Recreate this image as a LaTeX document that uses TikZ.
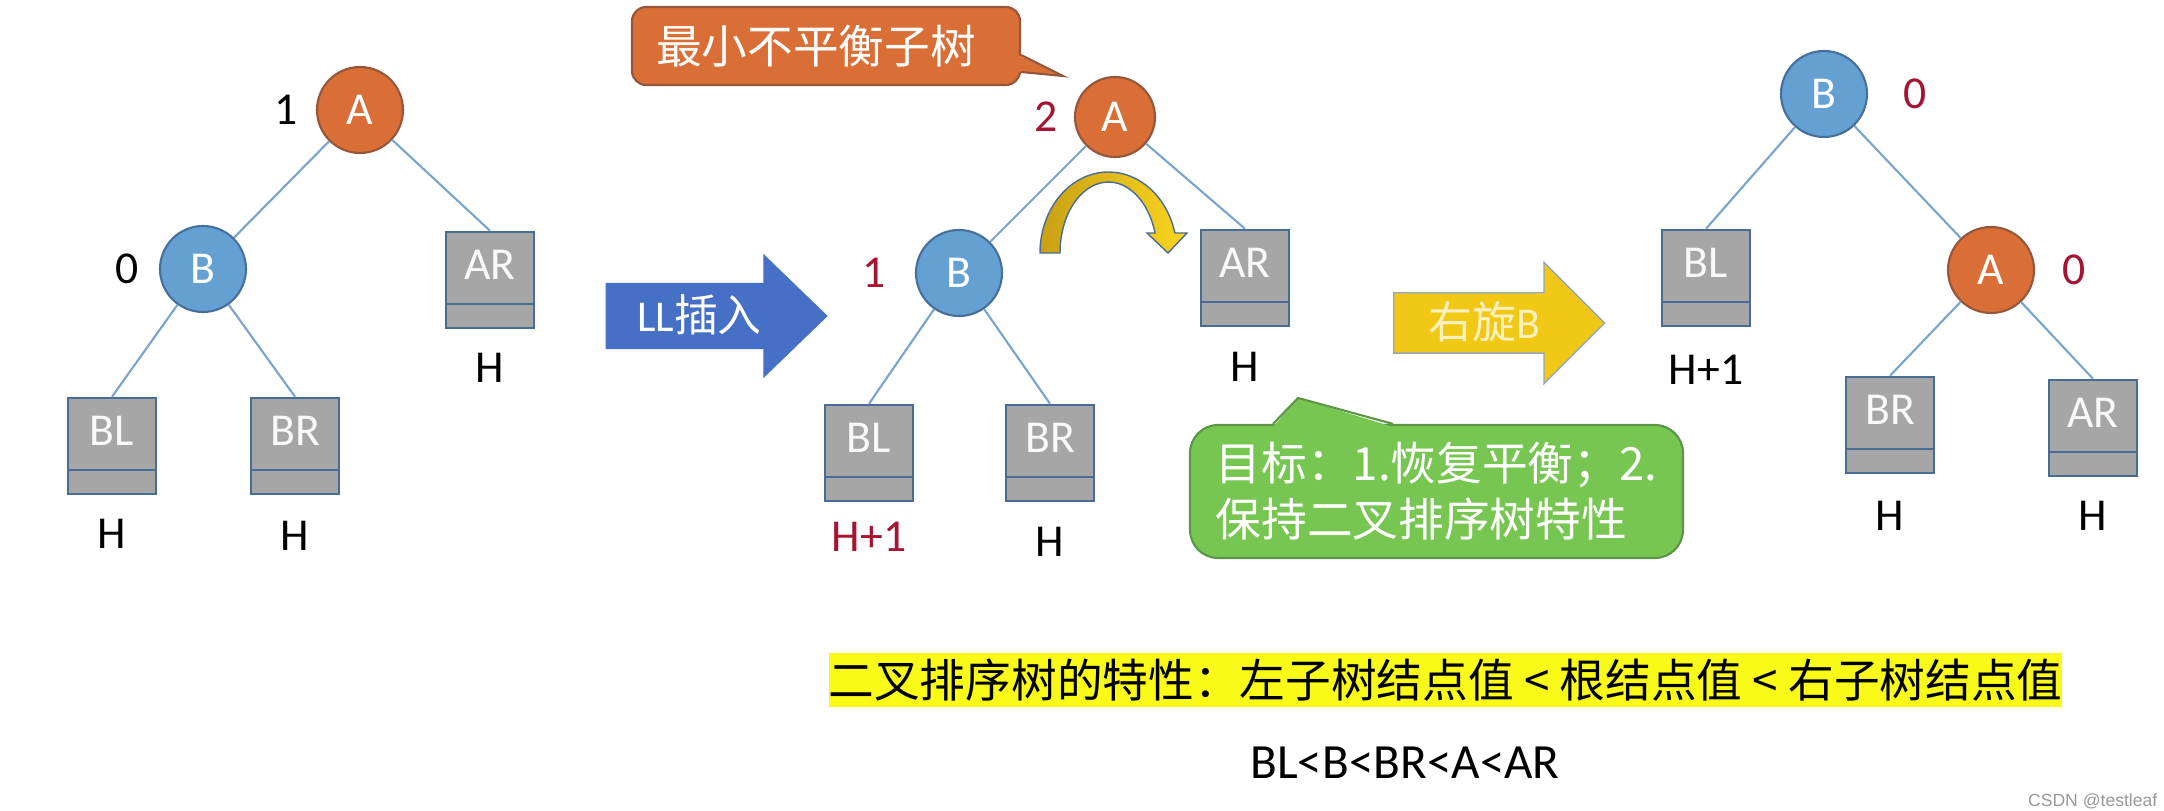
\documentclass[tikz,border=0pt]{standalone}
\usepackage{fontspec}
\setmainfont{Carlito}
\newfontfamily\cjk{Noto Sans CJK SC}
\newfontfamily\marksans{Liberation Sans}
\usetikzlibrary{arrows.meta,positioning,shapes.arrows}
\definecolor{KeyOrange}{RGB}{217,110,54}
\definecolor{KeyOrangeLine}{RGB}{150,86,60}
\definecolor{KeyBlue}{RGB}{100,160,210}
\definecolor{KeyBlueLine}{RGB}{70,112,155}
\definecolor{TreeGray}{RGB}{166,166,166}
\definecolor{TreeLine}{RGB}{72,108,150}
\definecolor{LinkBlue}{RGB}{120,165,205}
\definecolor{FactorRed}{RGB}{165,20,50}
\definecolor{InsertBlue}{RGB}{70,112,198}
\definecolor{RotateYellow}{RGB}{242,200,22}
\definecolor{RotateText}{RGB}{252,240,190}
\definecolor{GoalGreen}{RGB}{120,198,82}
\definecolor{GoalGreenLine}{RGB}{90,150,70}
\definecolor{MarkYellow}{RGB}{250,250,25}
\definecolor{BendGold}{RGB}{200,160,20}
\definecolor{BendYellow}{RGB}{250,214,30}
\tikzset{
  keynode/.style={circle,minimum size=0.86cm,inner sep=0pt,line width=0.6pt,
    text=white,font=\fontsize{13}{15}\selectfont},
  orangekey/.style={keynode,fill=KeyOrange,draw=KeyOrangeLine},
  bluekey/.style={keynode,fill=KeyBlue,draw=KeyBlueLine},
  subtree/.style={rectangle,fill=TreeGray,draw=TreeLine,line width=0.7pt,
    minimum width=0.88cm,minimum height=0.96cm,inner sep=0pt,
    text height=0.3cm,text depth=0.3cm,text=white!95!gray,
    font=\fontsize{13}{15}\selectfont,
    path picture={\draw[TreeLine,line width=0.7pt]
      ([yshift=0.24cm]path picture bounding box.south west) --
      ([yshift=0.24cm]path picture bounding box.south east);}},
  hlabel/.style={inner sep=0pt,font=\fontsize{13}{15}\selectfont},
  bfactor/.style={inner sep=0pt,font=\fontsize{13}{15}\selectfont},
  link/.style={LinkBlue,line width=0.6pt},
  fatarrow/.style={single arrow,inner xsep=0pt,anchor=tail,
    text height=0.37cm,text depth=0.05cm,
    font=\fontsize{12.5}{14}\selectfont},
  notebox/.style={rectangle,text=white,line width=0.6pt,
    font=\cjk\fontsize{13}{16}\selectfont}
}

\begin{document}
\begin{tikzpicture}[on grid]
  \fill[white] (0,0) rectangle (21.64,8.11);
  \useasboundingbox (0,0) rectangle (21.64,8.11);

  % before insertion
  \node[orangekey] (A1) at (3.60,7.01) {A};
  \node[bluekey,below left=1.59cm and 1.57cm of A1] (B1) {B};
  \node[subtree,below right=1.70cm and 1.30cm of A1] (AR1) {AR};
  \node[subtree,below left=1.77cm and 0.91cm of B1] (BL1) {BL};
  \node[subtree,below right=1.77cm and 0.92cm of B1] (BR1) {BR};
  \node[bfactor,left=0.74cm of A1] (fA1) {1};
  \node[bfactor,left=0.76cm of B1] (fB1) {0};
  \node[hlabel,below=0.88cm of AR1] (hAR1) {H};
  \node[hlabel,below=0.88cm of BL1] (hBL1) {H};
  \node[hlabel,below=0.90cm of BR1] (hBR1) {H};
  \draw[link] (A1) -- (B1);
  \draw[link] (A1) -- (AR1.north);
  \draw[link] (B1) -- (BL1.north);
  \draw[link] (B1) -- (BR1.north);

  \node[fatarrow,fill=InsertBlue,text=white,inner ysep=0.115cm,
    minimum height=2.22cm,minimum width=1.23cm,single arrow head extend=0.29cm,
    single arrow tip angle=88] (ll) at (6.05,4.95) {LL{\cjk 插入}};

  % after insertion
  \node[orangekey,minimum size=0.80cm] (A2) at (11.15,6.94) {A};
  \node[bluekey,below left=1.56cm and 1.56cm of A2] (B2) {B};
  \node[subtree,below right=1.61cm and 1.30cm of A2] (AR2) {AR};
  \node[subtree,below left=1.80cm and 0.90cm of B2] (BL2) {BL};
  \node[subtree,below right=1.80cm and 0.91cm of B2] (BR2) {BR};
  \node[bfactor,text=FactorRed,left=0.69cm of A2] (fA2) {2};
  \node[bfactor,text=FactorRed,left=0.85cm of B2] (fB2) {1};
  \node[hlabel,below=0.89cm of AR2] (hAR2) {H};
  \node[hlabel,text=FactorRed,below=0.84cm of BL2] (hBL2) {H+1};
  \node[hlabel,below=0.89cm of BR2] (hBR2) {H};
  \draw[link] (A2) -- (B2);
  \draw[link] (A2) -- (AR2.north);
  \draw[link] (B2) -- (BL2.north);
  \draw[link] (B2) -- (BR2.north);

  \draw[TreeLine,line width=0.4pt,left color=BendGold,right color=BendYellow]
    (10.40,5.58) arc[start angle=180,end angle=14.3,x radius=0.685cm,y radius=0.81cm]
    -- (11.87,5.78) -- (11.68,5.58) -- (11.47,5.78) -- (11.55,5.78)
    arc[start angle=16.4,end angle=180,x radius=0.485cm,y radius=0.71cm] -- cycle;

  % callouts
  \node[notebox,fill=KeyOrange,draw=KeyOrangeLine,rounded corners=4pt,
    minimum width=3.88cm,minimum height=0.78cm,text width=3.4cm,
    inner xsep=0.24cm,align=left] (least) at (8.26,7.65) {最小不平衡子树};
  \fill[KeyOrange] ([shift={(-0.03,-0.09)}]least.east)
    -- ([shift={(0.42,-0.30)}]least.east)
    -- ([shift={(-0.03,-0.26)}]least.east) -- cycle;
  \draw[KeyOrangeLine,line width=0.6pt] ([yshift=-0.09cm]least.east)
    -- ([shift={(0.42,-0.30)}]least.east) -- ([yshift=-0.26cm]least.east);

  \node[notebox,fill=GoalGreen,draw=GoalGreenLine,rounded corners=8pt,
    minimum width=4.93cm,minimum height=1.33cm,align=left]
    (goal) at (14.365,3.195) {目标：1.恢复平衡；2.\\保持二叉排序树特性};
  \fill[GoalGreen] ([shift={(-1.635,-0.03)}]goal.north)
    -- ([shift={(-1.385,0.26)}]goal.north)
    -- ([shift={(-0.435,-0.03)}]goal.north) -- cycle;
  \draw[GoalGreenLine,line width=0.6pt] ([xshift=-1.635cm]goal.north)
    -- ([shift={(-1.385,0.26)}]goal.north) -- ([xshift=-0.435cm]goal.north);

  \node[fatarrow,fill=RotateYellow,draw=TreeLine!60,line width=0.4pt,
    text=RotateText,inner ysep=0.085cm,minimum height=2.11cm,minimum width=1.20cm,
    single arrow head extend=0.305cm,single arrow tip angle=90]
    (rot) at (13.93,4.88) {{\cjk 右旋}B};

  % after right rotation
  \node[bluekey] (B3) at (18.24,7.17) {B};
  \node[subtree,below left=1.84cm and 1.18cm of B3] (BL3) {BL};
  \node[orangekey,below right=1.76cm and 1.67cm of B3] (A3) {A};
  \node[subtree,below left=1.55cm and 1.01cm of A3] (BR3) {BR};
  \node[subtree,below right=1.58cm and 1.02cm of A3] (AR3) {AR};
  \node[bfactor,text=FactorRed,right=0.91cm of B3] (fB3) {0};
  \node[bfactor,text=FactorRed,right=0.83cm of A3] (fA3) {0};
  \node[hlabel,below=0.92cm of BL3] (hBL3) {H+1};
  \node[hlabel,below=0.91cm of BR3] (hBR3) {H};
  \node[hlabel,below=0.88cm of AR3] (hAR3) {H};
  \draw[link] (B3) -- (BL3.north);
  \draw[link] (B3) -- (A3);
  \draw[link] (A3) -- (BR3.north);
  \draw[link] (A3) -- (AR3.north);

  % ordering property
  \node[fill=MarkYellow,minimum width=12.29cm,minimum height=0.54cm,inner sep=0pt,
    font=\cjk\fontsize{13}{15}\selectfont] (rule) at (14.455,1.31)
    {二叉排序树的特性：左子树结点值 < 根结点值 < 右子树结点值};
  \node[inner sep=0pt,font=\fontsize{14}{16}\selectfont] (order) at (14.05,0.48)
    {BL<B<BR<A<AR};
  \node[anchor=east,inner sep=0pt,text=gray!80,font=\marksans\fontsize{5}{6}\selectfont]
    (mark) at (21.58,0.10) {CSDN @testleaf};
\end{tikzpicture}
\end{document}
